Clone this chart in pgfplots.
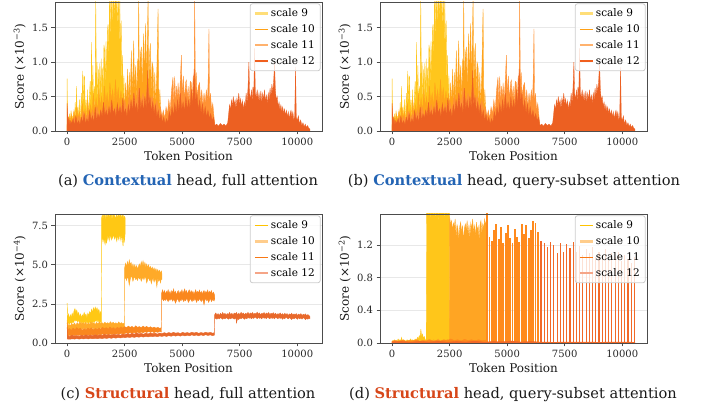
\documentclass[border=0pt]{standalone}
\usepackage{pgfplots}
\pgfplotsset{compat=1.18}
\usepackage{pgfplotstable}
\usepackage{fontspec}
\newfontfamily\dvs{DejaVu Serif}
\definecolor{cA9}{RGB}{255,198,28}
\definecolor{cA10}{RGB}{255,163,26}
\definecolor{cA11}{RGB}{255,146,52}
\definecolor{cA12}{RGB}{236,96,34}
\definecolor{lgA9}{RGB}{255,222,120}
\definecolor{lgA10}{RGB}{255,160,20}
\definecolor{lgA11}{RGB}{255,178,110}
\definecolor{lgA12}{RGB}{240,95,30}
\definecolor{cC9}{RGB}{255,200,20}
\definecolor{cC10}{RGB}{255,170,40}
\definecolor{cC11}{RGB}{250,135,30}
\definecolor{cC12}{RGB}{232,105,43}
\definecolor{lgC9}{RGB}{255,195,0}
\definecolor{lgC10}{RGB}{255,205,140}
\definecolor{lgC11}{RGB}{248,120,20}
\definecolor{lgC12}{RGB}{245,165,135}
\definecolor{cD9}{RGB}{255,198,26}
\definecolor{cD10}{RGB}{255,165,35}
\definecolor{cD11}{RGB}{255,138,28}
\definecolor{cD12}{RGB}{242,105,40}
\definecolor{ctxblue}{RGB}{35,100,180}
\definecolor{strred}{RGB}{215,70,25}

\pgfplotstableread{
x y
0 0.76
20 0.10
50 0.20
80 0.08
110 0.25
140 0.10
170 0.30
200 0.12
230 0.22
260 0.08
290 0.28
320 0.12
350 0.42
380 0.12
410 0.65
440 0.15
470 0.35
500 0.12
530 0.46
560 0.15
590 0.30
620 0.55
650 0.18
670 0.87
700 0.25
730 0.80
760 0.78
790 0.20
820 0.45
850 0.15
880 0.60
910 0.25
940 0.18
970 0.50
1000 0.72
1030 0.22
1060 1.29
1090 0.30
1120 0.95
1150 0.28
1180 0.65
1210 0.25
1245 1.95
1275 0.35
1300 1.00
1330 0.30
1360 0.90
1390 0.35
1420 0.98
1450 0.40
1480 1.05
1510 0.45
1540 0.92
1570 0.50
1600 1.25
1630 1.17
1660 0.55
1690 1.30
1720 0.70
1750 1.45
1780 1.55
1810 0.90
1840 1.95
1870 1.30
1900 1.95
1930 1.95
1960 1.45
1990 1.95
2020 1.95
2050 1.60
2080 1.95
2110 1.95
2140 1.70
2170 1.95
2200 1.40
2230 1.95
2260 1.20
2290 1.95
2320 1.00
2350 1.60
2380 0.60
2410 1.10
2440 0.40
2470 0.80
2500 0.20
}\tAnine

\pgfplotstableread{
x y
0 0.10
60 0.20
120 0.08
180 0.25
240 0.12
300 0.30
360 0.15
420 0.35
480 0.18
540 0.28
600 0.14
660 0.40
720 0.20
780 0.32
840 0.16
900 0.45
960 0.22
1020 0.38
1080 0.25
1140 0.55
1200 0.30
1260 0.48
1320 0.28
1380 0.60
1440 0.35
1500 0.50
1560 0.30
1620 0.65
1680 0.40
1740 0.55
1800 0.35
1860 0.70
1920 0.45
1980 0.60
2040 0.38
2100 0.75
2160 0.45
2220 0.62
2280 0.40
2340 0.58
2400 0.35
2450 0.55
2500 0.30
2540 0.70
2580 0.35
2620 0.90
2660 0.40
2700 0.85
2740 0.45
2790 1.17
2830 0.50
2870 1.00
2895 1.31
2930 0.55
2970 0.95
3010 0.45
3050 1.05
3080 0.55
3112 1.95
3140 0.60
3180 1.10
3228 1.22
3260 0.60
3300 1.15
3330 1.41
3360 0.65
3390 1.25
3416 1.56
3450 0.70
3480 1.20
3518 1.95
3550 0.65
3590 1.15
3619 1.27
3650 0.50
3690 1.00
3735 0.93
3770 0.40
3810 0.85
3850 0.35
3900 0.90
3952 1.77
3990 0.30
4030 0.60
4070 0.25
4100 0.20
}\tAten

\pgfplotstableread{
x y
0 0.08
100 0.15
200 0.10
300 0.20
400 0.12
500 0.22
600 0.15
700 0.28
800 0.18
900 0.25
1000 0.15
1100 0.30
1200 0.20
1300 0.35
1400 0.22
1500 0.30
1600 0.20
1700 0.38
1800 0.25
1900 0.42
2000 0.28
2100 0.35
2200 0.25
2300 0.40
2400 0.30
2500 0.45
2600 0.30
2700 0.50
2800 0.35
2900 0.55
3000 0.40
3100 0.62
3200 0.42
3300 0.55
3400 0.40
3500 0.70
3600 0.45
3700 0.50
3800 0.35
3900 0.45
4000 0.30
4060 0.35
4120 0.20
4180 0.30
4240 0.18
4300 0.35
4360 0.25
4420 0.45
4480 0.30
4540 0.60
4600 0.78
4640 0.40
4675 0.79
4720 0.42
4760 0.65
4800 0.40
4820 0.70
4870 0.45
4920 0.75
4965 1.10
5000 0.50
5050 0.80
5100 0.45
5150 0.70
5180 0.74
5220 0.45
5260 0.65
5300 0.42
5350 0.72
5400 0.70
5440 0.48
5480 0.80
5515 0.55
5543 1.95
5575 0.60
5610 0.85
5650 0.48
5700 0.65
5760 0.70
5800 0.40
5850 0.60
5900 0.35
5950 0.55
6000 0.40
6050 0.60
6100 0.42
6130 0.76
6165 1.48
6190 0.40
6230 0.55
6280 0.30
6330 0.40
6400 0.15
}\tAeleven

\pgfplotstableread{
x y
0 0.40
40 0.10
80 0.20
120 0.08
160 0.15
200 0.10
260 0.18
320 0.08
380 0.22
440 0.10
500 0.15
560 0.09
620 0.20
680 0.12
740 0.25
800 0.10
860 0.18
920 0.12
980 0.30
1040 0.15
1100 0.22
1160 0.12
1220 0.35
1280 0.15
1340 0.25
1400 0.18
1460 0.30
1520 0.20
1580 0.42
1640 0.22
1700 0.30
1760 0.20
1820 0.35
1880 0.22
1940 0.45
2000 0.25
2060 0.32
2120 0.20
2180 0.40
2240 0.25
2300 0.35
2360 0.22
2420 0.48
2480 0.25
2540 0.32
2600 0.20
2660 0.38
2720 0.25
2780 0.45
2840 0.28
2900 0.55
2960 0.30
3020 0.40
3080 0.25
3140 0.62
3200 0.30
3260 0.45
3320 0.28
3380 0.50
3440 0.30
3500 0.88
3540 0.35
3600 0.50
3660 0.28
3720 0.42
3780 0.25
3840 0.38
3900 0.20
3960 0.30
4020 0.15
4080 0.25
4140 0.12
4200 0.20
4260 0.10
4320 0.18
4380 0.12
4440 0.28
4500 0.18
4560 0.35
4620 0.22
4680 0.40
4740 0.25
4800 0.45
4860 0.28
4920 0.55
4980 0.30
5040 0.42
5100 0.28
5160 0.50
5220 0.30
5280 0.45
5340 0.32
5400 0.60
5460 0.35
5520 0.90
5580 0.40
5640 0.55
5700 0.30
5760 0.45
5820 0.25
5880 0.40
5940 0.22
6000 0.35
6060 0.20
6120 0.30
6180 0.18
6240 0.25
6300 0.15
6360 0.20
6420 0.08
6500 0.10
6580 0.07
6660 0.11
6740 0.08
6820 0.10
6900 0.07
6980 0.12
7020 0.25
7060 0.38
7100 0.30
7140 0.45
7180 0.35
7220 0.50
7260 0.38
7300 0.45
7340 0.32
7380 0.48
7420 0.40
7460 0.55
7500 0.38
7540 0.47
7580 0.35
7620 0.44
7660 0.30
7700 0.42
7740 0.35
7780 0.55
7820 0.40
7860 0.62
7900 1.00
7930 0.55
7970 0.45
8010 0.60
8050 0.40
8075 0.64
8110 0.50
8147 1.20
8180 0.55
8220 0.48
8260 0.60
8300 0.45
8340 0.55
8380 0.42
8420 0.58
8460 0.40
8500 0.55
8540 0.45
8580 0.60
8620 0.42
8660 0.52
8700 0.38
8740 0.55
8780 0.45
8820 0.62
8860 0.50
8900 0.68
8940 0.55
8980 0.75
9015 1.00
9050 0.60
9090 0.45
9130 0.50
9170 0.35
9210 0.42
9250 0.30
9290 0.38
9330 0.28
9370 0.35
9410 0.25
9450 0.32
9490 0.22
9530 0.30
9570 0.20
9610 0.28
9650 0.18
9690 0.25
9730 0.30
9770 0.20
9810 0.28
9850 0.15
9890 0.22
9928 0.93
9960 0.20
10000 0.15
10050 0.22
10100 0.10
10150 0.16
10200 0.08
10250 0.12
10300 0.06
10350 0.10
10400 0.05
10450 0.08
10500 0.04
10550 0.03
}\tAtwelve

\pgfplotstableread{
x y
0 2.55
20 1.60
60 1.85
100 1.55
140 1.80
180 1.62
220 1.90
260 1.70
300 2.05
340 2.20
380 1.95
420 2.10
460 1.80
500 1.95
540 1.65
580 1.85
620 1.60
660 1.80
700 1.70
740 1.95
780 1.75
820 1.85
860 1.60
900 1.90
940 1.75
980 2.00
1020 1.85
1060 2.15
1100 1.95
1140 2.25
1180 2.05
1220 2.30
1260 2.10
1300 2.25
1340 2.00
1380 2.15
1420 1.85
1460 2.00
1490 1.85
1500 8.00
1530 8.20
1560 7.90
1590 8.25
1620 8.05
1650 8.25
1680 7.85
1710 8.15
1740 8.25
1770 8.00
1800 8.20
1830 7.95
1860 8.25
1890 8.10
1920 8.25
1950 7.90
1980 8.15
2010 8.25
2040 8.00
2070 8.20
2100 7.85
2130 8.10
2160 8.25
2190 7.95
2220 8.15
2250 8.25
2280 8.00
2310 8.20
2340 8.25
2370 7.90
2400 8.15
2430 8.25
2460 7.95
2490 8.10
2520 8.00
2520 7.00
2490 6.50
2460 6.85
2430 6.20
2400 6.70
2370 6.90
2340 6.55
2310 6.80
2280 6.95
2250 6.60
2220 6.75
2190 6.85
2160 6.50
2130 6.70
2100 6.90
2070 6.65
2040 6.80
2010 6.95
1980 6.70
1950 6.85
1920 6.60
1890 6.80
1860 6.90
1830 6.55
1800 6.75
1770 6.85
1740 6.60
1710 6.40
1680 6.70
1650 6.30
1620 6.55
1590 6.75
1560 6.45
1530 6.80
1500 6.60
1490 1.30
1460 1.40
1420 1.28
1380 1.45
1340 1.35
1300 1.50
1260 1.38
1220 1.45
1180 1.32
1140 1.42
1100 1.30
1060 1.40
1020 1.28
980 1.38
940 1.25
900 1.35
860 1.28
820 1.40
780 1.30
740 1.36
700 1.25
660 1.38
620 1.30
580 1.42
540 1.33
500 1.45
460 1.35
420 1.48
380 1.40
340 1.50
300 1.38
260 1.30
220 1.35
180 1.25
140 1.32
100 1.22
60 1.30
20 1.20
0 1.10
}\tCnine

\pgfplotstableread{
x y
0 1.45
20 1.05
80 1.20
140 1.10
200 1.25
260 1.15
320 1.28
380 1.12
440 1.30
500 1.18
560 1.35
620 1.22
680 1.30
740 1.20
800 1.32
860 1.18
920 1.28
980 1.20
1040 1.35
1100 1.25
1160 1.30
1220 1.18
1280 1.32
1340 1.22
1400 1.35
1460 1.25
1520 1.30
1580 1.20
1640 1.33
1700 1.24
1760 1.30
1820 1.22
1880 1.36
1940 1.25
2000 1.32
2060 1.22
2120 1.30
2180 1.20
2240 1.35
2300 1.24
2360 1.30
2420 1.22
2490 1.28
2500 4.80
2540 5.10
2580 4.85
2620 5.20
2660 4.90
2700 5.30
2740 5.00
2780 5.15
2820 4.85
2860 5.05
2900 4.80
2940 5.00
2980 4.75
3020 4.95
3060 4.70
3100 4.90
3140 5.05
3180 4.85
3220 5.20
3260 4.95
3300 5.25
3340 4.90
3380 5.15
3420 4.85
3460 5.05
3500 4.80
3540 5.00
3580 4.75
3620 4.90
3660 4.70
3700 4.85
3740 4.65
3780 4.80
3820 4.60
3860 4.75
3900 4.55
3940 4.70
3980 4.50
4020 4.65
4060 4.45
4100 4.60
4120 4.40
4120 4.05
4100 4.20
4060 3.85
4020 4.10
3980 3.95
3940 4.15
3900 3.60
3860 4.00
3820 4.10
3780 3.90
3740 4.15
3700 4.05
3660 3.80
3620 4.10
3580 4.00
3540 4.20
3500 4.05
3460 3.85
3420 4.15
3380 4.25
3340 4.05
3300 4.20
3260 4.10
3220 3.95
3180 4.20
3140 4.10
3100 4.25
3060 4.00
3020 4.15
2980 4.05
2940 4.25
2900 4.15
2860 3.95
2820 4.20
2780 4.30
2740 4.05
2700 3.70
2660 4.10
2620 4.25
2580 4.00
2540 4.20
2500 4.10
2490 0.92
2420 0.98
2360 0.88
2300 0.95
2240 0.90
2180 1.00
2120 0.92
2060 0.98
2000 0.88
1940 0.95
1880 0.90
1820 1.00
1760 0.92
1700 0.96
1640 0.88
1580 0.95
1520 0.90
1460 1.00
1400 0.92
1340 0.97
1280 0.88
1220 0.95
1160 0.90
1100 0.98
1040 0.88
980 0.93
920 0.86
860 0.95
800 0.90
740 0.98
680 0.88
620 0.95
560 0.85
500 0.92
440 0.86
380 0.90
320 0.84
260 0.90
200 0.82
140 0.88
80 0.80
20 0.85
0 0.90
}\tCten

\pgfplotstableread{
x y
0 1.30
20 0.85
100 0.92
180 0.80
260 0.95
340 0.85
420 0.98
500 0.88
580 0.95
660 0.82
740 0.93
820 0.86
900 0.95
980 0.88
1060 0.97
1140 0.85
1220 0.93
1300 0.87
1380 0.96
1460 0.90
1540 1.00
1620 0.92
1700 0.98
1780 0.90
1860 1.02
1940 0.93
2020 0.98
2100 0.90
2180 1.00
2260 0.94
2340 1.03
2420 0.95
2500 1.05
2580 0.98
2660 1.08
2740 1.00
2820 1.06
2900 0.97
2980 1.10
3060 1.00
3140 1.05
3220 0.98
3300 1.08
3380 1.00
3460 1.06
3540 0.97
3620 1.04
3700 0.96
3780 1.02
3860 0.95
3940 1.00
4020 0.94
4100 0.98
4110 3.20
4150 3.40
4190 3.15
4230 3.35
4270 3.10
4310 3.30
4350 3.20
4390 3.40
4430 3.15
4470 3.30
4510 3.10
4550 3.35
4590 3.20
4630 3.45
4670 3.15
4710 3.30
4750 3.05
4790 3.25
4830 3.35
4870 3.10
4910 3.30
4950 3.20
4990 3.40
5030 3.15
5070 3.30
5110 3.45
5150 3.20
5190 3.35
5230 3.10
5270 3.30
5310 3.40
5350 3.15
5390 3.35
5430 3.20
5470 3.30
5510 3.10
5550 3.25
5590 3.40
5630 3.15
5670 3.30
5710 3.20
5750 3.38
5790 3.15
5830 3.30
5870 3.10
5910 3.28
5950 3.35
5990 3.15
6030 3.30
6070 3.20
6110 3.38
6150 3.15
6190 3.30
6230 3.20
6270 3.35
6310 3.10
6350 3.25
6390 3.15
6410 3.00
6410 2.75
6390 2.85
6350 2.70
6310 2.80
6270 2.65
6230 2.85
6190 2.75
6150 2.60
6110 2.80
6070 2.70
6030 2.85
5990 2.75
5950 2.45
5910 2.70
5870 2.80
5830 2.65
5790 2.75
5750 2.85
5710 2.70
5670 2.80
5630 2.60
5590 2.75
5550 2.85
5510 2.70
5470 2.80
5430 2.65
5390 2.75
5350 2.85
5310 2.70
5270 2.60
5230 2.78
5190 2.85
5150 2.70
5110 2.80
5070 2.65
5030 2.75
4990 2.85
4950 2.70
4910 2.78
4870 2.62
4830 2.75
4790 2.85
4750 2.70
4710 2.55
4670 2.72
4630 2.80
4590 2.68
4550 2.78
4510 2.85
4470 2.72
4430 2.80
4390 2.65
4350 2.75
4310 2.85
4270 2.72
4230 2.80
4190 2.70
4150 2.85
4110 2.75
4100 0.70
4020 0.74
3940 0.68
3860 0.72
3780 0.66
3700 0.73
3620 0.68
3540 0.74
3460 0.67
3380 0.72
3300 0.65
3220 0.70
3140 0.64
3060 0.70
2980 0.63
2900 0.68
2820 0.62
2740 0.67
2660 0.60
2580 0.66
2500 0.60
2420 0.58
2340 0.62
2260 0.56
2180 0.60
2100 0.55
2020 0.60
1940 0.54
1860 0.58
1780 0.52
1700 0.57
1620 0.53
1540 0.58
1460 0.52
1380 0.56
1300 0.50
1220 0.55
1140 0.50
1060 0.54
980 0.48
900 0.53
820 0.48
740 0.52
660 0.47
580 0.52
500 0.48
420 0.53
340 0.47
260 0.52
180 0.46
100 0.50
20 0.45
0 0.50
}\tCeleven

\pgfplotstableread{
x y
0 1.00
20 0.48
120 0.42
220 0.50
320 0.44
420 0.48
520 0.42
620 0.50
720 0.45
820 0.52
920 0.46
1020 0.50
1120 0.47
1220 0.53
1320 0.48
1420 0.52
1520 0.49
1620 0.55
1720 0.50
1820 0.54
1920 0.49
2020 0.56
2120 0.51
2220 0.55
2320 0.50
2420 0.57
2520 0.54
2620 0.60
2720 0.55
2820 0.62
2920 0.57
3020 0.64
3120 0.58
3220 0.62
3320 0.56
3420 0.63
3520 0.58
3620 0.65
3720 0.59
3820 0.63
3920 0.57
4020 0.64
4120 0.60
4220 0.66
4320 0.61
4420 0.67
4520 0.62
4620 0.68
4720 0.63
4820 0.66
4920 0.61
5020 0.68
5120 0.63
5220 0.67
5320 0.62
5420 0.69
5520 0.64
5620 0.68
5720 0.62
5820 0.67
5920 0.63
6020 0.69
6120 0.64
6220 0.68
6320 0.63
6400 0.66
6410 1.80
6460 1.92
6510 1.78
6560 1.88
6610 1.75
6660 1.90
6710 1.80
6760 1.95
6810 1.82
6860 1.90
6910 1.78
6960 1.88
7010 1.82
7060 1.95
7110 1.80
7160 1.90
7210 1.78
7260 1.92
7310 1.85
7360 1.95
7410 1.80
7460 1.90
7510 1.82
7560 1.96
7610 1.85
7660 1.92
7710 1.80
7760 1.90
7810 1.84
7860 1.96
7910 1.82
7960 1.92
8010 1.86
8060 1.95
8110 1.82
8160 1.90
8210 1.85
8260 1.97
8310 1.84
8360 1.92
8410 1.80
8460 1.90
8510 1.86
8560 1.95
8610 1.82
8660 1.92
8710 1.85
8760 1.95
8810 1.80
8860 1.90
8910 1.84
8960 1.94
9010 1.82
9060 1.90
9110 1.78
9160 1.88
9210 1.82
9260 1.92
9310 1.80
9360 1.88
9410 1.78
9460 1.90
9510 1.82
9560 1.88
9610 1.76
9660 1.86
9710 1.80
9760 1.90
9810 1.78
9860 1.86
9910 1.80
9960 1.88
10010 1.76
10060 1.85
10110 1.78
10160 1.88
10210 1.75
10260 1.84
10310 1.78
10360 1.86
10410 1.74
10460 1.82
10510 1.76
10550 1.70
10550 1.55
10510 1.60
10460 1.52
10410 1.58
10360 1.50
10310 1.57
10260 1.62
10210 1.53
10160 1.60
10110 1.55
10060 1.62
10010 1.52
9960 1.58
9910 1.62
9860 1.55
9810 1.60
9760 1.50
9710 1.58
9660 1.62
9610 1.54
9560 1.60
9510 1.65
9460 1.55
9410 1.60
9360 1.52
9310 1.62
9260 1.57
9210 1.64
9160 1.55
9110 1.60
9060 1.65
9010 1.55
8960 1.62
8910 1.57
8860 1.64
8810 1.55
8760 1.60
8710 1.66
8660 1.56
8610 1.62
8560 1.58
8510 1.65
8460 1.55
8410 1.62
8360 1.58
8310 1.64
8260 1.56
8210 1.62
8160 1.66
8110 1.57
8060 1.62
8010 1.55
7960 1.63
7910 1.58
7860 1.64
7810 1.55
7760 1.60
7710 1.52
7660 1.58
7610 1.62
7560 1.55
7510 1.60
7460 1.50
7410 1.58
7360 1.28
7340 1.55
7310 1.60
7260 1.53
7210 1.58
7160 1.62
7110 1.55
7060 1.60
7010 1.52
6960 1.58
6910 1.62
6860 1.55
6810 1.60
6760 1.52
6710 1.58
6660 1.62
6610 1.55
6560 1.60
6510 1.52
6460 1.58
6410 1.55
6400 0.50
6320 0.47
6220 0.52
6120 0.48
6020 0.53
5920 0.47
5820 0.52
5720 0.46
5620 0.51
5520 0.47
5420 0.52
5320 0.46
5220 0.50
5120 0.45
5020 0.50
4920 0.44
4820 0.49
4720 0.44
4620 0.48
4520 0.43
4420 0.47
4320 0.42
4220 0.46
4120 0.42
4020 0.45
3920 0.40
3820 0.44
3720 0.40
3620 0.43
3520 0.39
3420 0.42
3320 0.38
3220 0.41
3120 0.37
3020 0.40
2920 0.36
2820 0.39
2720 0.35
2620 0.38
2520 0.34
2420 0.36
2320 0.32
2220 0.35
2120 0.31
2020 0.34
1920 0.30
1820 0.33
1720 0.29
1620 0.32
1520 0.28
1420 0.31
1320 0.27
1220 0.30
1120 0.27
1020 0.29
920 0.26
820 0.29
720 0.26
620 0.28
520 0.25
420 0.28
320 0.25
220 0.27
120 0.24
20 0.25
0 0.30
}\tCtwelve

\pgfplotstableread{
x y
0 0.02
30 0.03
60 0.02
100 0.04
140 0.02
180 0.03
220 0.02
260 0.05
300 0.03
340 0.04
380 0.03
410 0.07
440 0.03
480 0.04
520 0.02
560 0.03
600 0.02
650 0.04
700 0.02
750 0.03
800 0.05
850 0.03
900 0.04
950 0.02
1000 0.05
1050 0.03
1100 0.07
1140 0.05
1180 0.09
1210 0.06
1250 0.17
1280 0.08
1320 0.11
1360 0.06
1400 0.08
1440 0.04
1480 0.03
1500 1.62
1540 1.62
1560 1.55
1580 1.62
1640 1.62
1660 1.50
1680 1.62
1760 1.62
1780 1.56
1800 1.62
1880 1.62
1900 1.52
1920 1.62
2000 1.62
2020 1.47
2040 1.62
2120 1.62
2140 1.58
2160 1.62
2240 1.62
2260 1.53
2280 1.62
2400 1.62
2420 1.55
2440 1.62
2500 1.62
2505 0.02
}\tDnine

\pgfplotstableread{
x y
0 0.02
100 0.03
200 0.015
300 0.03
400 0.02
500 0.04
600 0.02
700 0.03
800 0.015
900 0.03
1000 0.02
1100 0.04
1200 0.02
1300 0.035
1400 0.02
1500 0.03
1600 0.045
1700 0.02
1800 0.04
1900 0.025
2000 0.05
2100 0.02
2200 0.035
2300 0.02
2400 0.045
2490 0.03
2500 1.55
2540 1.45
2580 1.50
2620 1.38
2660 1.47
2700 1.42
2740 1.52
2780 1.30
2820 1.45
2860 1.40
2900 1.27
2940 1.43
2980 1.48
3020 1.35
3060 1.44
3100 1.25
3140 1.40
3180 1.46
3220 1.38
3260 1.50
3300 1.32
3340 1.45
3380 1.28
3420 1.47
3460 1.40
3500 1.52
3540 1.35
3580 1.44
3620 1.30
3660 1.48
3700 1.38
3740 1.43
3780 1.26
3820 1.45
3860 1.50
3900 1.34
3940 1.46
3980 1.40
4020 1.52
4060 1.45
4100 1.50
4110 0.03
}\tDten

\pgfplotstableread{
x y
0 0.02
150 0.03
300 0.02
450 0.035
600 0.02
750 0.03
900 0.025
1050 0.04
1200 0.02
1350 0.03
1500 0.025
1650 0.04
1800 0.02
1950 0.035
2100 0.025
2250 0.04
2400 0.03
2550 0.05
2700 0.03
2850 0.04
3000 0.025
3150 0.045
3300 0.03
3450 0.04
3600 0.025
3750 0.04
3900 0.03
4050 0.035
4100 0.03
}\tDelevenlow

\pgfplotstableread{
x y
4130 1.60
4230 1.30
4330 1.25
4430 1.38
4530 1.46
4630 1.27
4730 1.42
4830 1.22
4930 1.35
5030 1.44
5130 1.29
5230 1.22
5330 1.40
5430 1.30
5530 1.24
5630 1.46
5730 1.33
5830 1.45
5930 1.28
6030 1.38
6130 1.50
6230 1.47
6330 1.36
}\tDelevenbars

\pgfplotstableread{
x y
0 0.015
400 0.02
800 0.01
1200 0.02
1600 0.012
2000 0.022
2400 0.01
2800 0.02
3200 0.012
3600 0.025
4000 0.01
4400 0.02
4800 0.015
5200 0.025
5600 0.012
6000 0.02
6400 0.012
7000 0.01
8000 0.012
9000 0.01
10000 0.012
10550 0.01
}\tDtwelvelow

\pgfplotstableread{
x y
6470 1.25
6610 1.22
6750 1.18
6890 1.24
7030 1.20
7170 1.10
7310 1.23
7450 1.12
7590 1.21
7730 1.16
7870 1.24
8010 1.12
8150 1.19
8290 1.08
8430 1.15
8570 1.10
8710 1.17
8850 1.05
8990 1.12
9130 1.08
9270 1.15
9410 1.02
9550 1.10
9690 1.05
9830 1.12
9970 1.00
10110 1.08
10250 1.03
10390 0.98
10530 1.05
}\tDtwelvebars

\pgfplotsset{
  myax/.style={
    scale only axis, width=267pt, height=129pt,
    xmin=-527, xmax=11077, ymin=0,
    xtick={0,2500,5000,7500,10000},
    tick align=outside, major tick length=3.5pt,
    xtick pos=bottom, ytick pos=left,
    axis line style={draw=black!70, line width=0.8pt},
    every tick/.style={draw=black!70, line width=0.8pt},
    ymajorgrids, grid style={draw=black!9, line width=0.8pt},
    /pgf/number format/assume math mode=true,
    /pgf/number format/1000 sep={},
    scaled ticks=false,
    ticklabel style={font=\dvs\fontsize{10}{12}\selectfont, color=black!85},
    label style={font=\dvs\fontsize{12}{14}\selectfont, color=black!90},
    xlabel={Token Position},
    xlabel style={inner sep=0pt, at={(axis description cs:0.5,0)}, anchor=north, yshift=-20pt},
    ylabel style={inner sep=0pt, at={(axis description cs:0,0.5)}, anchor=south, yshift=29pt},
    legend style={at={(rel axis cs:0.995,0.99)}, anchor=north east,
      draw=black!20, line width=0.8pt, rounded corners=2.5pt,
      fill=white, fill opacity=0.8, text opacity=1, draw opacity=1,
      font=\dvs\fontsize{10.5}{12}\selectfont, inner xsep=3.5pt, inner ysep=3pt,
      row sep=2.4pt},
    legend cell align=left,
    legend image code/.code={\draw[#1, mark=none, solid] (0pt,0pt) -- (12.7pt,0pt);},
  },
  yfix/.style={yticklabel style={/pgf/number format/.cd, fixed, fixed zerofill, precision=#1}},
}

\begin{document}
\begin{tikzpicture}
\path[use as bounding box] (0pt,0pt) rectangle (709pt,409pt);

% (a)
\begin{axis}[myax, at={(55pt,278pt)}, anchor=south west, ymax=1.87,
  ytick={0,0.5,1.0,1.5}, yfix=1, ylabel={Score (×10\textsuperscript{−3})}]
\addlegendimage{mark=none, line width=2.6pt, color=lgA9, draw=lgA9}\addlegendentry{scale 9}
\addlegendimage{mark=none, line width=1.2pt, color=lgA10, draw=lgA10}\addlegendentry{scale 10}
\addlegendimage{mark=none, line width=2.6pt, color=lgA11, draw=lgA11}\addlegendentry{scale 11}
\addlegendimage{mark=none, line width=1.2pt, color=lgA12, draw=lgA12}\addlegendentry{scale 12}
\addplot[forget plot, draw=cA9, line width=0.3pt, fill=cA9] table {\tAnine} \closedcycle;
\addplot[forget plot, draw=cA10, line width=0.3pt, fill=cA10] table {\tAten} \closedcycle;
\addplot[forget plot, draw=cA11, line width=0.3pt, fill=cA11] table {\tAeleven} \closedcycle;
\addplot[forget plot, draw=cA12, line width=0.3pt, fill=cA12] table {\tAtwelve} \closedcycle;
\end{axis}

% (b)
\begin{axis}[myax, at={(380pt,278pt)}, anchor=south west, ymax=1.87,
  ytick={0,0.5,1.0,1.5}, yfix=1, ylabel={Score (×10\textsuperscript{−3})}]
\addlegendimage{mark=none, line width=2.6pt, color=lgA9, draw=lgA9}\addlegendentry{scale 9}
\addlegendimage{mark=none, line width=1.2pt, color=lgA10, draw=lgA10}\addlegendentry{scale 10}
\addlegendimage{mark=none, line width=2.6pt, color=lgA11, draw=lgA11}\addlegendentry{scale 11}
\addlegendimage{mark=none, line width=1.2pt, color=lgA12, draw=lgA12}\addlegendentry{scale 12}
\addplot[forget plot, draw=cA9, line width=0.3pt, fill=cA9] table {\tAnine} \closedcycle;
\addplot[forget plot, draw=cA10, line width=0.3pt, fill=cA10] table {\tAten} \closedcycle;
\addplot[forget plot, draw=cA11, line width=0.3pt, fill=cA11] table {\tAeleven} \closedcycle;
\addplot[forget plot, draw=cA12, line width=0.3pt, fill=cA12] table {\tAtwelve} \closedcycle;
\end{axis}

% (c)
\begin{axis}[myax, at={(55pt,66pt)}, anchor=south west, ymax=8.25,
  ytick={0,2.5,5.0,7.5}, yfix=1, ylabel={Score (×10\textsuperscript{−4})}]
\addlegendimage{mark=none, line width=1.2pt, color=lgC9, draw=lgC9}\addlegendentry{scale 9}
\addlegendimage{mark=none, line width=2.6pt, color=lgC10, draw=lgC10}\addlegendentry{scale 10}
\addlegendimage{mark=none, line width=1.2pt, color=lgC11, draw=lgC11}\addlegendentry{scale 11}
\addlegendimage{mark=none, line width=2.6pt, color=lgC12, draw=lgC12}\addlegendentry{scale 12}
\addplot[forget plot, draw=cC9, line width=0.4pt, fill=cC9] table {\tCnine};
\addplot[forget plot, draw=cC10, line width=0.4pt, fill=cC10] table {\tCten};
\addplot[forget plot, draw=cC11, line width=0.4pt, fill=cC11] table {\tCeleven};
\addplot[forget plot, draw=cC12, line width=0.4pt, fill=cC12] table {\tCtwelve};
\end{axis}

% (d)
\begin{axis}[myax, at={(380pt,66pt)}, anchor=south west, ymax=1.58,
  ytick={0,0.4,0.8,1.2}, yfix=1, ylabel={Score (×10\textsuperscript{−2})}]
\addlegendimage{mark=none, line width=1.2pt, color=lgC9, draw=lgC9}\addlegendentry{scale 9}
\addlegendimage{mark=none, line width=2.6pt, color=lgC10, draw=lgC10}\addlegendentry{scale 10}
\addlegendimage{mark=none, line width=1.2pt, color=lgC11, draw=lgC11}\addlegendentry{scale 11}
\addlegendimage{mark=none, line width=2.6pt, color=lgC12, draw=lgC12}\addlegendentry{scale 12}
\addplot[forget plot, draw=cD9, line width=0.3pt, fill=cD9] table {\tDnine} \closedcycle;
\addplot[forget plot, draw=cD10, line width=0.3pt, fill=cD10] table {\tDten} \closedcycle;
\addplot[forget plot, draw=cD11, line width=0.3pt, fill=cD11] table {\tDelevenlow} \closedcycle;
\addplot[forget plot, ycomb, mark=none, draw=cD11, line width=1.9pt] table {\tDelevenbars};
\addplot[forget plot, draw=cD12, line width=0.3pt, fill=cD12] table {\tDtwelvelow} \closedcycle;
\addplot[forget plot, ycomb, mark=none, draw=cD12, line width=1.1pt] table {\tDtwelvebars};
\end{axis}

\foreach \x/\y in {55/278, 380/278, 55/66, 380/66} {
  \draw[black!70, line width=0.8pt] (\x pt,\y pt) rectangle ++(267pt,129pt);
}

\begin{scope}[every node/.style={anchor=base, font=\dvs\fontsize{14.6}{17}\selectfont, text=black!90}]
\node at (188pt,223.3pt) {(a) \textbf{\textcolor{ctxblue}{Contextual}} head, full attention};
\node at (514pt,223.3pt) {(b) \textbf{\textcolor{ctxblue}{Contextual}} head, query-subset attention};
\node at (188pt,10.7pt) {(c) \textbf{\textcolor{strred}{Structural}} head, full attention};
\node at (513pt,10.7pt) {(d) \textbf{\textcolor{strred}{Structural}} head, query-subset attention};
\end{scope}
\end{tikzpicture}
\end{document}
